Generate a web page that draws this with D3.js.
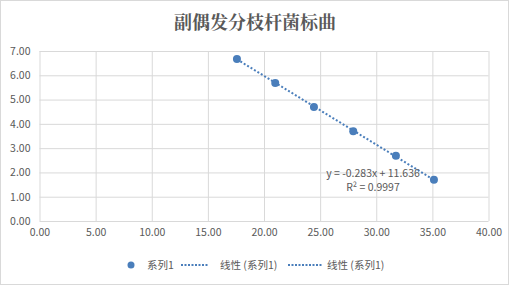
<!DOCTYPE html>
<html><head><meta charset="utf-8">
<script src="https://cdn.jsdelivr.net/npm/d3@7"></script>
<style>body{margin:0;background:#fff}svg{display:block}</style>
</head><body>
<script>
const title = "副偶发分枝杆菌标曲";
const xValues = [17.59, 21.00, 24.45, 27.95, 31.75, 35.14];
const yValues = [6.67, 5.68, 4.69, 3.70, 2.69, 1.70];
const xTicks = [0, 5, 10, 15, 20, 25, 30, 35, 40];
const yTicks = [0, 1, 2, 3, 4, 5, 6, 7];
const slope = -0.283, intercept = 11.636;
const eqText = "y = -0.283x + 11.636";
const r2Text = "R² = 0.9997";
const legendLabels = ["系列1", "线性 (系列1)", "线性 (系列1)"];

const W = 510, H = 286;
const col = "#4a7ebb", txt = "#595959", grid = "#d9d9d9";
const font = "'Microsoft YaHei','Noto Sans CJK SC',Calibri,'Liberation Sans',sans-serif";
const svg = d3.select("body").append("svg").attr("width", W).attr("height", H);
svg.append("rect").attr("x",0.5).attr("y",0.5).attr("width",508).attr("height",284)
  .attr("fill","#fff").attr("stroke",grid);

const x = d3.scaleLinear().domain([0,40]).range([39.5,488.5]);
const y = d3.scaleLinear().domain([0,7]).range([221,51]);

svg.append("text").attr("x",255).attr("y",29).attr("text-anchor","middle")
  .attr("font-family","'Noto Serif CJK SC','Noto Sans CJK SC',serif").attr("font-weight","bold")
  .attr("font-size",18).attr("fill",txt).text(title);

const g = svg.append("g");
g.append("g").attr("transform",`translate(0,${y(0)})`)
  .call(d3.axisBottom(x).tickValues(xTicks).tickSize(-(y(0)-y(7))).tickFormat(d=>d.toFixed(2)).tickPadding(8))
  .call(a=>{a.select(".domain").remove();a.selectAll("line").attr("stroke",grid);
    a.selectAll("text").attr("fill",txt).attr("font-size",10.5).attr("font-family",font);});
g.append("g").attr("transform",`translate(${x(0)},0)`)
  .call(d3.axisLeft(y).tickValues(yTicks).tickSize(-(x(40)-x(0))).tickFormat(d=>d.toFixed(2)).tickPadding(9))
  .call(a=>{a.select(".domain").remove();a.selectAll("line").attr("stroke",grid);
    a.selectAll("text").attr("fill",txt).attr("font-size",10.5).attr("font-family",font);});

const x0 = d3.min(xValues), x1 = d3.max(xValues);
g.append("line").attr("x1",x(x0)).attr("y1",y(slope*x0+intercept))
  .attr("x2",x(x1)).attr("y2",y(slope*x1+intercept))
  .attr("stroke",col).attr("stroke-width",2).attr("stroke-dasharray","2,2");

g.selectAll("circle.pt").data(xValues).join("circle").attr("class","pt")
  .attr("cx",(d)=>x(d)).attr("cy",(d,i)=>y(yValues[i])).attr("r",4).attr("fill",col);

svg.append("text").attr("x",373).attr("y",176.5).attr("text-anchor","middle")
  .attr("font-family",font).attr("font-size",10.5).attr("fill",txt).text(eqText);
svg.append("text").attr("x",373).attr("y",191).attr("text-anchor","middle")
  .attr("font-family",font).attr("font-size",10.5).attr("fill",txt).text(r2Text);

const ly = 265;
const lg = svg.append("g").attr("font-family",font).attr("font-size",10.5).attr("fill",txt);
lg.append("circle").attr("cx",131).attr("cy",ly).attr("r",3.5).attr("fill",col);
lg.append("text").attr("x",147).attr("y",ly+4).text(legendLabels[0]);
lg.append("line").attr("x1",181).attr("x2",209).attr("y1",ly).attr("y2",ly)
  .attr("stroke",col).attr("stroke-width",2).attr("stroke-dasharray","2,1.5");
lg.append("text").attr("x",220).attr("y",ly+4).text(legendLabels[1]);
lg.append("line").attr("x1",288).attr("x2",322).attr("y1",ly).attr("y2",ly)
  .attr("stroke",col).attr("stroke-width",2).attr("stroke-dasharray","2,1.5");
lg.append("text").attr("x",327).attr("y",ly+4).text(legendLabels[2]);
</script>
</body></html>
